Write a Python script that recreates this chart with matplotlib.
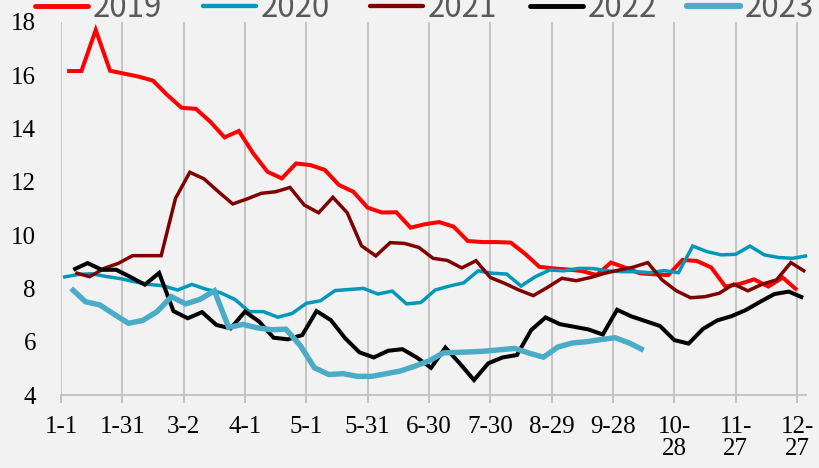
import numpy as np
import matplotlib
matplotlib.use("Agg")
import matplotlib.pyplot as plt
from matplotlib.lines import Line2D

# weekly readings, one list per year (first week of each year starts on a Friday)
years = ["2019", "2020", "2021", "2022", "2023"]

vals_2019 = [16.16, 16.16, 17.70, 16.17, 16.06, 15.95, 15.80, 15.26, 14.78, 14.74,
             14.26, 13.67, 13.91, 13.07, 12.38, 12.13, 12.69, 12.63, 12.45, 11.88,
             11.63, 11.03, 10.85, 10.86, 10.28, 10.41, 10.49, 10.32, 9.78, 9.74,
             9.74, 9.72, 9.30, 8.81, 8.75, 8.71, 8.65, 8.50, 8.97, 8.78,
             8.57, 8.53, 8.50, 9.07, 9.03, 8.79, 8.07, 8.17, 8.34, 8.07,
             8.41, 7.94]
vals_2020 = [8.42, 8.52, 8.55, 8.45, 8.37, 8.25, 8.15, 8.10, 7.94, 8.15,
             7.97, 7.84, 7.59, 7.13, 7.13, 6.92, 7.06, 7.44, 7.54, 7.92,
             7.96, 8.00, 7.79, 7.90, 7.42, 7.47, 7.94, 8.09, 8.21, 8.66,
             8.57, 8.54, 8.09, 8.44, 8.69, 8.66, 8.75, 8.75, 8.66, 8.63,
             8.63, 8.59, 8.67, 8.59, 9.59, 9.38, 9.26, 9.28, 9.59, 9.26,
             9.16, 9.13, 9.23]
vals_2021 = [8.59, 8.44, 8.75, 8.94, 9.23, 9.23, 9.23, 11.38, 12.36, 12.11,
             11.63, 11.17, 11.36, 11.57, 11.63, 11.79, 11.13, 10.84, 11.42, 10.84,
             9.60, 9.22, 9.72, 9.69, 9.54, 9.13, 9.05, 8.77, 9.04, 8.41,
             8.19, 7.94, 7.73, 8.04, 8.38, 8.29, 8.41, 8.57, 8.69, 8.80,
             8.97, 8.32, 7.91, 7.65, 7.69, 7.82, 8.16, 7.91, 8.16, 8.32,
             8.97, 8.63]
vals_2022 = [8.70, 8.95, 8.70, 8.70, 8.43, 8.14, 8.58, 7.15, 6.88, 7.11,
             6.63, 6.50, 7.13, 6.75, 6.15, 6.09, 6.25, 7.15, 6.81, 6.13,
             5.60, 5.41, 5.66, 5.72, 5.41, 5.02, 5.78, 5.19, 4.56, 5.19,
             5.41, 5.50, 6.44, 6.91, 6.66, 6.56, 6.46, 6.27, 7.20, 6.95,
             6.77, 6.59, 6.06, 5.93, 6.48, 6.80, 6.96, 7.19, 7.50, 7.79,
             7.88, 7.65]
vals_2023 = [8.00, 7.50, 7.38, 7.03, 6.69, 6.80, 7.13, 7.69, 7.42, 7.59,
             7.91, 6.54, 6.65, 6.52, 6.45, 6.47, 5.86, 5.02, 4.77, 4.80,
             4.70, 4.70, 4.80, 4.90, 5.08, 5.28, 5.58, 5.60, 5.62, 5.65,
             5.70, 5.75, 5.57, 5.42, 5.80, 5.95, 6.00, 6.08, 6.15, 5.95,
             5.68]

# day of year of the first weekly reading
first_day = [3, 1, 7, 6, 5]

tick_labels = ["1-1", "1-31", "3-2", "4-1", "5-1", "5-31", "6-30", "7-30",
               "8-29", "9-28", "10-\n28", "11-\n27", "12-\n27"]

colors = ["#ff0000", "#0098b9", "#800000", "#000000", "#4aacc6"]
widths = [2.9, 2.5, 2.5, 2.9, 3.9]

all_vals = [vals_2019, vals_2020, vals_2021, vals_2022, vals_2023]

W, H = 819, 468
fig = plt.figure(figsize=(W / 100, H / 100), dpi=100, facecolor="#f2f2f2")
ax = fig.add_axes([61 / W, 1 - 395 / H, 745 / W, 373 / H])
ax.set_facecolor("#f2f2f2")

for name, vals, start, c, w in zip(years, all_vals, first_day, colors, widths):
    x = start + 7 * np.arange(len(vals))
    ax.plot(x, vals, color=c, linewidth=w, label=name, clip_on=False,
            solid_capstyle="butt", solid_joinstyle="miter")

ax.set_xlim(0, 364.4)
ax.set_ylim(4, 18)
ax.set_xticks(np.arange(0, 361, 30))
ax.set_xticklabels(tick_labels, fontfamily="Liberation Serif", fontsize=18,
                   linespacing=1.0)
ax.set_yticks(np.arange(4, 19, 2))
ax.set_yticklabels([str(v) for v in range(4, 19, 2)],
                   fontfamily="Liberation Serif", fontsize=18)
ax.tick_params(axis="x", direction="out", length=6, width=1.3,
               color="#bfbfbf", pad=9)
ax.tick_params(axis="y", length=0, pad=18)

ax.grid(True, axis="x", color="#c4c4c4", linewidth=1.4)
ax.set_axisbelow(True)
for side in ["top", "right", "left"]:
    ax.spines[side].set_visible(False)
ax.spines["bottom"].set_color("#c4c4c4")
ax.spines["bottom"].set_linewidth(1.4)

# legend row along the top edge (partly cut off, as in the source image)
legend_x = [35, 203, 370, 530, 687]
for name, c, w, lx in zip(years, colors, widths, legend_x):
    fig.add_artist(Line2D([lx / W, (lx + 53) / W], [1 - 6 / H, 1 - 6 / H],
                          color=c, linewidth=w + 0.6,
                          solid_capstyle="round", transform=fig.transFigure))
    fig.text((lx + 58) / W, 1 - 17 / H, name, color="#595959",
             fontfamily="Noto Sans CJK SC", fontsize=22.5, va="baseline",
             ha="left")

fig.savefig("out.png", dpi=100, facecolor=fig.get_facecolor())
